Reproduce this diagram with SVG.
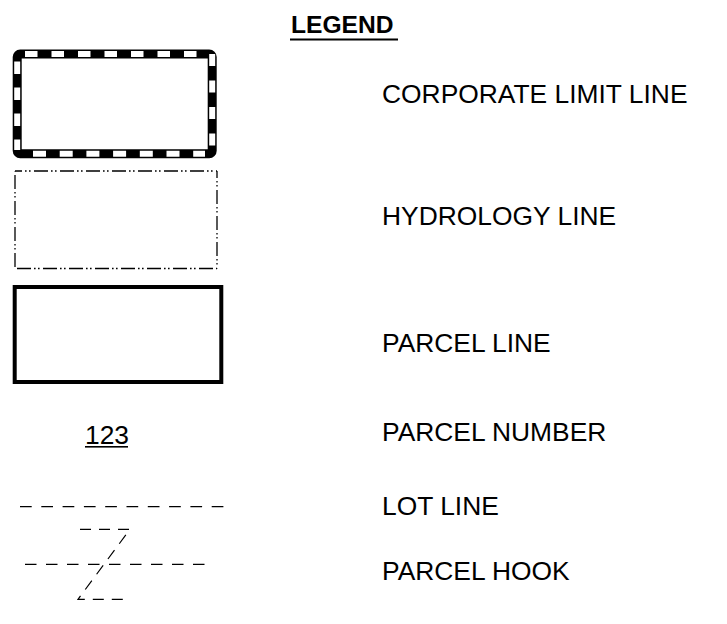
<svg xmlns="http://www.w3.org/2000/svg" width="727" height="624" viewBox="0 0 727 624">
<style>
text{font-family:"Liberation Sans",Arial,sans-serif;fill:#000}
.lbl{font-size:26.4px}
.ttl{font-size:24.6px;font-weight:bold}
.hyd{fill:none;stroke:#000;stroke-width:1.3;stroke-dasharray:14 3 1.6 2.4 1.6 3.4}
.wd{stroke:#fff;stroke-width:6;fill:none}
.dash{fill:none;stroke:#000;stroke-width:1.2}
</style>
<rect width="727" height="624" fill="#fff"/>
<g id="title">
<text class="ttl" x="291" y="33">LEGEND</text>
<rect x="290" y="38.5" width="108" height="2" fill="#000"/>
</g>
<g id="corporate-limit">
<rect x="17.2" y="54" width="195" height="99.7" rx="3" fill="#fff" stroke="#000" stroke-width="9"/>
<line class="wd" x1="25" y1="54" x2="197" y2="54" stroke-dasharray="12.5 14"/>
<line class="wd" x1="33" y1="153.7" x2="205" y2="153.7" stroke-dasharray="13 13.7"/>
<line class="wd" x1="17.2" y1="61.5" x2="17.2" y2="150" stroke-dasharray="12.5 13.5"/>
<line class="wd" x1="212.2" y1="54" x2="212.2" y2="146" stroke-dasharray="12 14.5"/>
<text class="lbl" x="382" y="103">CORPORATE LIMIT LINE</text>
</g>
<g id="hydrology">
<line class="hyd" x1="15" y1="171" x2="217" y2="171" stroke-dashoffset="7"/>
<line class="hyd" x1="217" y1="171" x2="217" y2="268.5" stroke-dashoffset="7"/>
<line class="hyd" x1="15" y1="268.5" x2="217" y2="268.5" stroke-dashoffset="-2"/>
<line class="hyd" x1="15" y1="171" x2="15" y2="268.5" stroke-dashoffset="-4"/>
<text class="lbl" x="382" y="225">HYDROLOGY LINE</text>
</g>
<g id="parcel-line">
<rect x="14.7" y="287" width="206.6" height="95" fill="none" stroke="#000" stroke-width="4"/>
<text class="lbl" x="382" y="352">PARCEL LINE</text>
</g>
<g id="parcel-number">
<text class="lbl" x="85" y="444">123</text>
<rect x="85" y="446" width="43" height="1.6" fill="#000"/>
<text class="lbl" x="382" y="441">PARCEL NUMBER</text>
</g>
<g id="lot-line">
<line class="dash" x1="20" y1="506.7" x2="224" y2="506.7" stroke-dasharray="11.7 9.6"/>
<text class="lbl" x="382" y="515">LOT LINE</text>
</g>
<g id="parcel-hook">
<path class="dash" d="M80,529.3 H130 L78,599.3 H125" stroke-dasharray="11 8"/>
<line class="dash" x1="25" y1="564.3" x2="206" y2="564.3" stroke-dasharray="11.5 9.5"/>
<text class="lbl" x="382" y="580">PARCEL HOOK</text>
</g>
</svg>
